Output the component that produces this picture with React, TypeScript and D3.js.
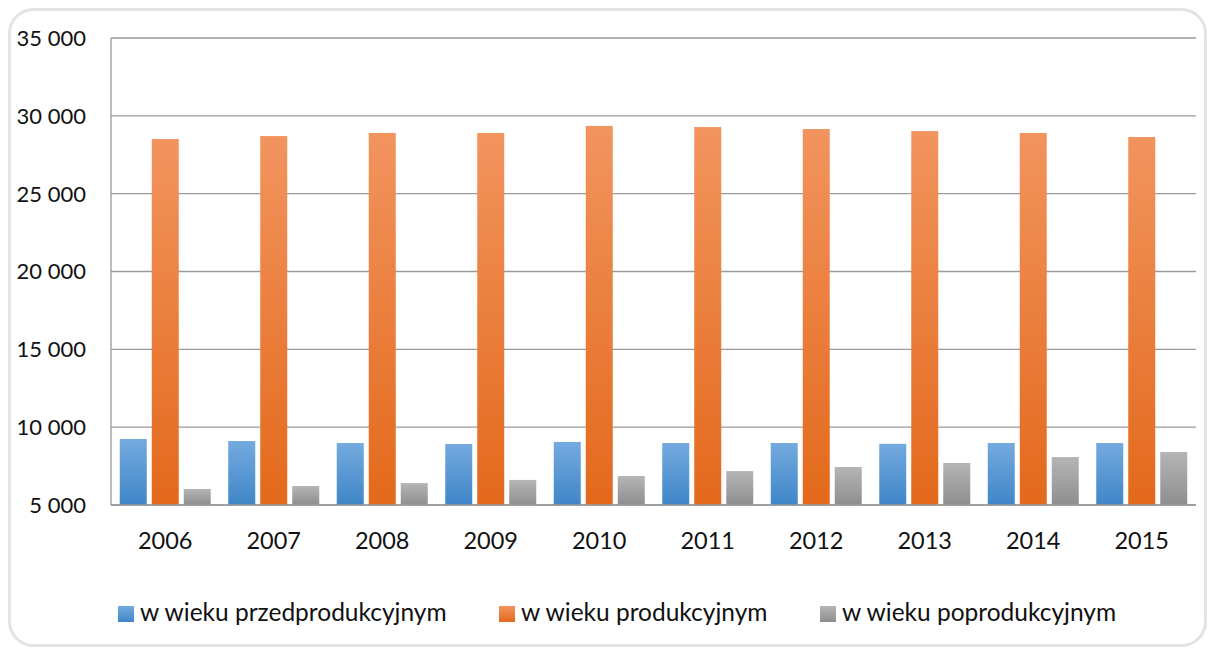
import React from 'react';
import * as d3 from 'd3';

const years = ['2006', '2007', '2008', '2009', '2010', '2011', '2012', '2013', '2014', '2015'];
const przed = [9240, 9110, 8980, 8920, 9050, 8980, 8980, 8930, 8980, 8980];
const prod = [28510, 28700, 28900, 28900, 29350, 29280, 29150, 29020, 28900, 28640];
const popr = [6030, 6220, 6410, 6610, 6860, 7180, 7440, 7700, 8080, 8400];
const yTicks = [5000, 10000, 15000, 20000, 25000, 30000, 35000];
const seriesNames = ['w wieku przedprodukcyjnym', 'w wieku produkcyjnym', 'w wieku poprodukcyjnym'];

const W = 1208;
const H = 648;
const FONT = 'Lato, "Open Sans", sans-serif';

export default function App() {
  const left = 111;
  const right = 1196;
  const top = 38;
  const bottom = 505;

  const x = d3.scaleBand<string>().domain(years).range([left, right]);
  const inner = d3.scaleBand<number>().domain([0, 1, 2]).range([0, 91]).paddingInner(5 / 32);
  const innerOffset = (x.bandwidth() - 91) / 2;
  const y = d3.scaleLinear().domain([5000, 35000]).range([bottom, top]);
  const fmt = (v: number) => d3.format(',')(v).replace(',', ' ');

  const series = [przed, prod, popr];
  const grads = [
    ['#74aadf', '#3f86c8'],
    ['#f2945e', '#e3691b'],
    ['#b5b5b5', '#8e8e8e'],
  ];
  const legendX = [118, 499, 820];

  return (
    <div style={{ position: 'absolute', left: 0, top: 0 }}>
      <svg width={W} height={H} style={{ display: 'block' }}>
        <defs>
          {grads.map((g, i) => (
            <linearGradient key={i} id={`g${i}`} x1="0" y1="0" x2="0" y2="1">
              <stop offset="0%" stopColor={g[0]} />
              <stop offset="100%" stopColor={g[1]} />
            </linearGradient>
          ))}
        </defs>
        <rect x={9.5} y={9.5} width={1196} height={636} rx={24} fill="#fff" stroke="#e3e3e3" strokeWidth={3} />

        {/* gridlines */}
        {yTicks.map(t => (
          <line key={t} x1={left} x2={right} y1={y(t)} y2={y(t)} stroke="#9a9a9a" strokeWidth={1.3} />
        ))}
        <line x1={left} x2={left} y1={top} y2={bottom} stroke="#9a9a9a" strokeWidth={1.3} />

        {/* y labels */}
        {yTicks.map(t => (
          <text key={t} x={86} y={y(t)} dy="0.36em" textAnchor="end" fontFamily={FONT} fontSize={22} fill="#111">
            {fmt(t)}
          </text>
        ))}

        {/* bars */}
        {years.map((yr, i) => (
          <g key={yr}>
            {series.map((s, k) => (
              <rect
                key={k}
                x={(x(yr) as number) + innerOffset + (inner(k) as number)}
                y={y(s[i])}
                width={inner.bandwidth()}
                height={bottom - y(s[i])}
                fill={`url(#g${k})`}
              />
            ))}
            <text x={(x(yr) as number) + x.bandwidth() / 2} y={549} textAnchor="middle" fontFamily={FONT} fontSize={23.5} fill="#111">
              {yr}
            </text>
          </g>
        ))}
        <line x1={left} x2={right} y1={bottom} y2={bottom} stroke="#9a9a9a" strokeWidth={1.5} />

        {/* legend */}
        {seriesNames.map((n, k) => (
          <g key={n}>
            <rect x={legendX[k]} y={606} width={16} height={16} fill={`url(#g${k})`} />
            <text x={legendX[k] + 22} y={621} fontFamily={FONT} fontSize={24.5} fill="#111">
              {n}
            </text>
          </g>
        ))}
      </svg>
    </div>
  );
}
